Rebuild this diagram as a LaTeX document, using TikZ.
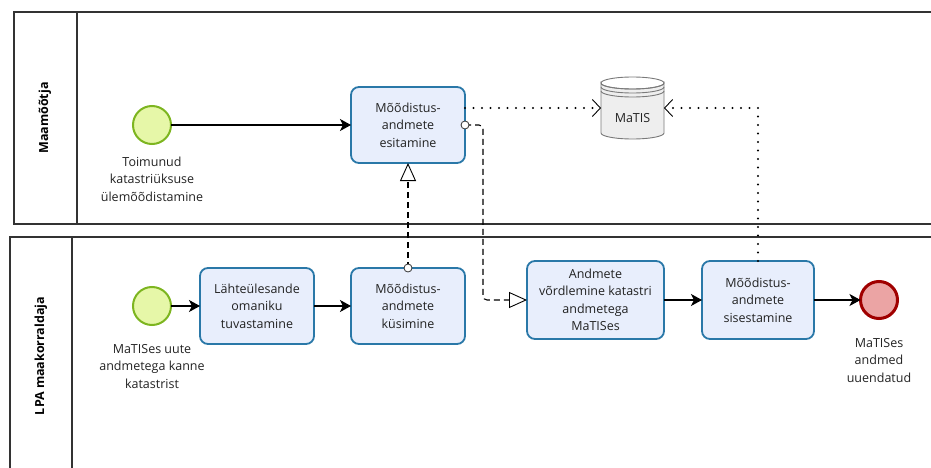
\documentclass[tikz,border=0pt]{standalone}
\usepackage{fontspec}
\setmainfont{Open Sans}
\usetikzlibrary{arrows.meta}
\definecolor{taskfill}{HTML}{E8EEFC}
\definecolor{taskdraw}{HTML}{2A78A8}
\definecolor{startfill}{HTML}{E6F7A8}
\definecolor{startdraw}{HTML}{7DB520}
\definecolor{endfill}{HTML}{EBA4A4}
\definecolor{enddraw}{HTML}{A00000}
\definecolor{dsfill}{HTML}{EEEEEE}
\definecolor{dsdraw}{HTML}{7A7A7A}
\definecolor{txt}{HTML}{222222}
\begin{document}
\begin{tikzpicture}[x=1pt,y=-1pt,
  every node/.style={inner sep=0pt,outer sep=0pt,text=txt},
  lbl/.style={font=\fontsize{12.5}{17.5}\selectfont,align=center},
  task/.style={lbl,draw=taskdraw,fill=taskfill,line width=1.8pt,rounded corners=8pt,minimum width=114pt,minimum height=76pt},
  startev/.style={circle,draw=startdraw,fill=startfill,line width=2pt,minimum size=38pt},
  endev/.style={circle,draw=enddraw,fill=endfill,line width=3pt,minimum size=37pt},
  pool/.style={draw=black!80,line width=1.2pt},
  lanelbl/.style={rotate=90,font=\bfseries\fontsize{12.5}{14}\selectfont,text=black},
  seq/.style={line width=1.1pt,-{Stealth[length=11pt,width=12pt,inset=3pt]}},
  msg/.style={draw=black,line width=1.1pt,dash pattern=on 6pt off 4pt,-{Triangle[open,length=18pt,width=16pt,line width=0.9pt]}},
  msgcirc/.style={circle,draw=black!80,fill=white,line width=0.8pt,minimum size=8pt},
  assoc/.style={line width=2.2pt,line cap=round,dash pattern=on 0pt off 8.5pt,-{Straight Barb[length=8pt,width=17pt,line width=0.9pt]}}
]
\useasboundingbox (0,0) rectangle (931,468);
% pools
\draw[pool] (940,12) -- (14,12) -- (14,224) -- (940,224);
\draw[pool] (77,12) -- (77,224);
\draw[pool] (940,237) -- (10,237) -- (10,475);
\draw[pool] (72,237) -- (72,475);
\node[lanelbl] (lane1) at (45,118) {Maamõõtja};
\node[lanelbl] (lane2) at (41,356) {LPA maakorraldaja};
% top lane
\node[startev] (s1) at (152,125) {};
\node[lbl,anchor=north] (s1lab) at (152,157) {Toimunud\\katastriüksuse\\ülemõõdistamine};
\node[task] (esit) at (408,125) {Mõõdistus-\\andmete\\esitamine};
% data store
\node[minimum width=63pt,minimum height=62pt] (matis) at (632.5,108) {};
\fill[dsfill,draw=dsdraw,line width=0.9pt] (601,83) -- (601,133) arc[start angle=180,end angle=0,x radius=31.5,y radius=6] -- (664,83) arc[start angle=0,end angle=180,x radius=31.5,y radius=6] -- cycle;
\draw[dsdraw,line width=0.9pt] (632.5,83) ellipse[x radius=31.5,y radius=6];
\draw[dsdraw,line width=0.9pt] (601,87) arc[start angle=180,end angle=0,x radius=31.5,y radius=6];
\draw[dsdraw,line width=0.9pt] (601,91) arc[start angle=180,end angle=0,x radius=31.5,y radius=6];
\node[lbl,text=txt] at (632.5,118) {MaTIS};
% bottom lane
\node[startev] (s2) at (152,306) {};
\node[lbl,anchor=north] (s2lab) at (152,344) {MaTISes uute\\andmetega kanne\\katastrist};
\node[task] (lahte) at (257,306) {Lähteülesande\\omaniku\\tuvastamine};
\node[task] (kus) at (408,306) {Mõõdistus-\\andmete\\küsimine};
\node[task,minimum width=137pt,minimum height=78pt] (vord) at (595.5,300) {Andmete\\võrdlemine katastri\\andmetega\\MaTISes};
\node[task,minimum width=112pt,minimum height=78pt] (sis) at (758,300) {Mõõdistus-\\andmete\\sisestamine};
\node[endev] (e1) at (879,300) {};
\node[lbl,anchor=north] (e1lab) at (879,338) {MaTISes\\andmed\\uuendatud};
% sequence flows
\draw[seq] (s1) -- (esit);
\draw[seq] (s2) -- (lahte);
\draw[seq] (lahte) -- (kus);
\draw[seq] (vord) -- (sis);
\draw[seq] (sis) -- (e1);
% message flows
\coordinate (bend) at (483,125);
\draw[msg] (kus.north) -- (esit.south);
\draw[msg,rounded corners=4pt] (esit.east) -- (bend) -- (bend |- vord.west) -- (vord.west);
\node[msgcirc] (c1) at (kus.north) {};
\node[msgcirc] (c2) at (esit.east) {};
% data associations
\draw[assoc] (esit.east |- matis.west) -- (matis.west);
\draw[assoc] (sis.north) -- (sis.north |- matis.east) -- (matis.east);
\end{tikzpicture}
\end{document}
